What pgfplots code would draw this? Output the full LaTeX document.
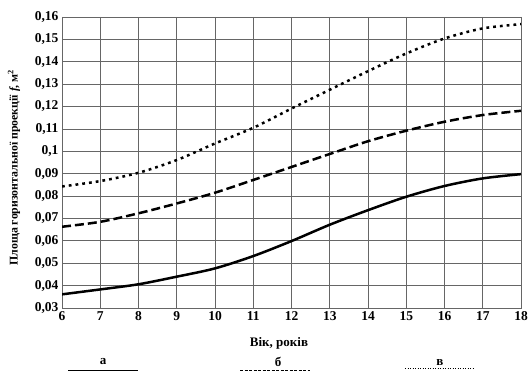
\documentclass[border=0pt]{standalone}
\usepackage{fontspec}
\setmainfont{Liberation Serif}
\usepackage{pgfplots}
\pgfplotsset{compat=1.18}
\begin{document}
\begin{tikzpicture}
\begin{axis}[
  scale only axis, width=459pt, height=291pt,
  at={(0,0)}, anchor=south west,
  xmin=6, xmax=18, ymin=0.03, ymax=0.16,
  xtick={6,7,8,9,10,11,12,13,14,15,16,17,18},
  xticklabels={6,7,8,9,10,11,12,13,14,15,16,17,18},
  ytick={0.03,0.04,0.05,0.06,0.07,0.08,0.09,0.1,0.11,0.12,0.13,0.14,0.15,0.16},
  yticklabels={{0,03},{0,04},{0,05},{0,06},{0,07},{0,08},{0,09},{0,1},{0,11},{0,12},{0,13},{0,14},{0,15},{0,16}},
  grid=major,
  major grid style={black!60, line width=0.8pt},
  axis line style={black!60, line width=0.8pt},
  major tick style={black!60, line width=0.8pt},
  ticklabel style={font=\fontsize{13.5}{14}\selectfont\bfseries},
]
\addplot[black, line width=2.5pt, smooth] coordinates {
(6,0.0361) (7,0.0383) (8,0.0406) (9,0.0440) (10,0.0477) (11,0.0532) (12,0.0599)
(13,0.0672) (14,0.0737) (15,0.0797) (16,0.0845) (17,0.0879) (18,0.0898)};
\addplot[black, line width=2.5pt, smooth, dash pattern=on 9pt off 4pt] coordinates {
(6,0.0663) (7,0.0685) (8,0.0723) (9,0.0767) (10,0.0815) (11,0.0872) (12,0.0930)
(13,0.0988) (14,0.1045) (15,0.1092) (16,0.1132) (17,0.1162) (18,0.1181)};
\addplot[black, line width=2.5pt, smooth, dash pattern=on 2.8pt off 4pt] coordinates {
(6,0.0843) (7,0.0867) (8,0.0904) (9,0.0961) (10,0.1035) (11,0.1105) (12,0.1191)
(13,0.1275) (14,0.1358) (15,0.1437) (16,0.1504) (17,0.1549) (18,0.1568)};
\end{axis}
\node[font=\fontsize{13}{14}\selectfont\bfseries] at (217pt,-35pt) {Вік, років};
\node[font=\fontsize{11.8}{13}\selectfont\bfseries, rotate=90] at (-48pt,140.5pt) {Площа горизонтальної проекції \textit{f}, м\textsuperscript{2}};
\draw[black, line width=1pt] (6pt,-62pt) -- (76pt,-62pt);
\node[font=\fontsize{13}{14}\selectfont\bfseries] at (41pt,-54pt) {а};
\draw[black, line width=1pt, dash pattern=on 3pt off 1.5pt] (178pt,-62pt) -- (248pt,-62pt);
\node[font=\fontsize{13}{14}\selectfont\bfseries] at (216pt,-54pt) {б};
\draw[black, line width=1pt, dash pattern=on 1pt off 1.5pt] (343pt,-60pt) -- (413pt,-60pt);
\node[font=\fontsize{13}{14}\selectfont\bfseries] at (378pt,-55pt) {в};
\pgfresetboundingbox
\path (-62pt,-67pt) rectangle (467pt,308pt);
\end{tikzpicture}
\end{document}
